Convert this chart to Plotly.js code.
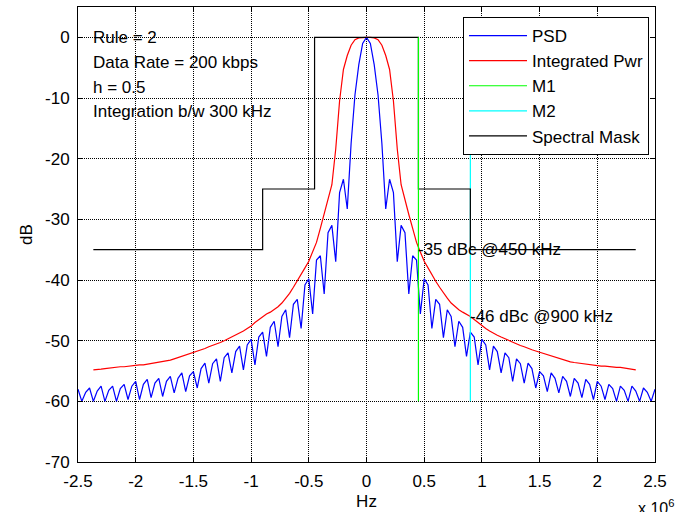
<!DOCTYPE html>
<html>
<head>
<meta charset="utf-8">
<script src="https://cdn.plot.ly/plotly-3.0.1.min.js"></script>
<style>
  html, body { margin: 0; padding: 0; background: #fff; }
  #chart { width: 679px; height: 512px; }
</style>
</head>
<body>
<div id="chart"></div>
<script>
// ---------- DATA ----------
// Frequency grid: 33.33 kHz spacing, PSD from -2.5 MHz to 2.5 MHz (k = -75..75)
const FREQ_STEP_HZ = 1e6 / 30;
const PSD_K_FIRST = -75;
const PWR_K_FIRST = -71;

// Power spectral density (dB), k = -75 .. 75
const psdDb = [
  -58.0, -60.0, -58.5, -57.8, -60.0, -58.3, -57.5, -60.0, -58.2, -57.5,
  -60.0, -57.9, -57.2, -59.7, -57.5, -56.7, -59.7, -57.2, -56.4, -59.4,
  -57.0, -56.2, -59.2, -56.7, -55.9, -58.6, -56.2, -55.3, -58.4, -55.8,
  -55.1, -57.8, -54.6, -53.7, -57.0, -53.8, -53.0, -56.7, -52.8, -52.0,
  -55.3, -51.8, -50.9, -54.8, -50.7, -49.8, -54.0, -49.4, -48.6, -52.6,
  -47.8, -46.8, -51.0, -46.0, -44.9, -49.5, -44.0, -43.2, -48.0, -40.8,
  -39.8, -45.6, -36.7, -36.0, -42.3, -32.2, -31.0, -37.0, -25.6, -23.4,
  -28.3, -17.5, -9.5, -4.5, -1.0,
  0.0,
  -1.0, -4.5, -9.5, -17.5, -28.3, -23.4, -25.6, -37.0, -31.0, -32.2,
  -42.3, -36.0, -36.7, -45.6, -39.8, -40.8, -48.0, -43.2, -44.0, -49.5,
  -44.9, -46.0, -51.0, -46.8, -47.8, -52.6, -48.6, -49.4, -54.0, -49.8,
  -50.7, -54.8, -50.9, -51.8, -55.3, -52.0, -52.8, -56.7, -53.0, -53.8,
  -57.0, -53.7, -54.6, -57.8, -55.1, -55.8, -58.4, -55.3, -56.2, -58.6,
  -55.9, -56.7, -59.2, -56.2, -57.0, -59.4, -56.4, -57.2, -59.7, -56.7,
  -57.5, -59.7, -57.2, -57.9, -60.0, -57.5, -58.2, -60.0, -57.5, -58.3,
  -60.0, -57.8, -58.5, -60.0, -58.0
];

// Integrated power (dB), k = -71 .. 70
const intPwrDb = [
  -54.8, -54.8, -54.7, -54.6, -54.5, -54.4, -54.4, -54.3, -54.3, -54.2,
  -54.2, -54.1, -54.0, -54.0, -53.9, -53.8, -53.7, -53.6, -53.5, -53.4,
  -53.2, -53.0, -52.8, -52.6, -52.3, -52.1, -51.9, -51.7, -51.5, -51.3,
  -51.0, -50.8, -50.6, -50.3, -50.0, -49.7, -49.4, -49.1, -48.8, -48.4,
  -48.0, -47.6, -47.0, -46.5, -46.0, -45.6, -45.3, -44.9, -44.4, -43.8,
  -43.0, -42.2, -41.2, -40.2, -39.2, -38.0, -36.9, -35.4, -33.8, -31.5,
  -29.2, -27.0, -24.3, -18.4, -10.5, -5.3, -3.0, -1.3, -0.4, -0.1,
  0.0,
  0.0,
  0.0, -0.1, -0.4, -1.3, -3.0, -5.3, -10.5, -18.4, -24.3, -27.0,
  -29.2, -31.5, -33.8, -35.4, -36.9, -38.0, -39.2, -40.2, -41.2, -42.2,
  -43.0, -43.8, -44.4, -44.9, -45.3, -45.6, -46.0, -46.5, -47.0, -47.6,
  -48.0, -48.4, -48.8, -49.1, -49.4, -49.7, -50.0, -50.3, -50.6, -50.8,
  -51.0, -51.3, -51.5, -51.7, -51.9, -52.1, -52.3, -52.6, -52.8, -53.0,
  -53.2, -53.4, -53.5, -53.6, -53.7, -53.8, -53.9, -54.0, -54.0, -54.1,
  -54.2, -54.2, -54.3, -54.3, -54.4, -54.4, -54.5, -54.6, -54.7, -54.8
];

// Spectral mask
const maskFreqHz = [-2.367e6, -0.9e6, -0.9e6, -0.45e6, -0.45e6, 0.45e6, 0.45e6, 0.9e6, 0.9e6, 2.333e6];
const maskDb     = [-35, -35, -25, -25, 0, 0, -25, -25, -35, -35];

// Markers
const markerFreqHz = [450e3, 900e3];
const markerTopDb = 0;
const markerBottomDb = -60;
const markerDbc = [-35, -46];
const markerLabels = ['-35 dBc @450 kHz', '-46 dBc @900 kHz'];

// Info text
const infoLines = ['Rule = 2', 'Data Rate = 200 kbps', 'h = 0.5', 'Integration b/w 300 kHz'];
const infoLevelsDb = [0, -4.2, -8.3, -12.3];

// Ticks
const xTickVals = [-2.5e6, -2e6, -1.5e6, -1e6, -0.5e6, 0, 0.5e6, 1e6, 1.5e6, 2e6, 2.5e6];
const xTickText = ['-2.5', '-2', '-1.5', '-1', '-0.5', '0', '0.5', '1', '1.5', '2', '2.5'];
const yTickVals = [-70, -60, -50, -40, -30, -20, -10, 0];
const yTickText = ['-70', '-60', '-50', '-40', '-30', '-20', '-10', '0'];

// ---------- BUILD ----------
const psdFreqHz = psdDb.map((_, i) => (PSD_K_FIRST + i) * FREQ_STEP_HZ);
const pwrFreqHz = intPwrDb.map((_, i) => (PWR_K_FIRST + i) * FREQ_STEP_HZ);

const FONT = '"Liberation Sans", Arial, Helvetica, sans-serif';
const FS = 17;

const traces = [
  { x: psdFreqHz, y: psdDb, type: 'scatter', mode: 'lines', name: 'PSD',
    line: { color: '#0000ff', width: 1.2 }, legendrank: 1 },
  { x: pwrFreqHz, y: intPwrDb, type: 'scatter', mode: 'lines', name: 'Integrated Pwr',
    line: { color: '#ff0000', width: 1.2 }, legendrank: 2 },
  { x: [markerFreqHz[1], markerFreqHz[1]], y: [markerTopDb, markerBottomDb], type: 'scatter', mode: 'lines', name: 'M2',
    line: { color: '#00ffff', width: 1.2 }, legendrank: 4 },
  { x: maskFreqHz, y: maskDb, type: 'scatter', mode: 'lines', name: 'Spectral Mask',
    line: { color: '#000000', width: 1.2 }, legendrank: 5 },
  { x: [markerFreqHz[0], markerFreqHz[0]], y: [markerTopDb, markerBottomDb], type: 'scatter', mode: 'lines', name: 'M1',
    line: { color: '#00ff00', width: 1.2 }, legendrank: 3 }
];

const L = 78, R = 24, T = 7, B = 50, W = 679, H = 512;
const pw = W - L - R, ph = H - T - B;

const annotations = [];
infoLines.forEach((t, i) => {
  annotations.push({ x: -2.385e6, y: infoLevelsDb[i], xref: 'x', yref: 'y', text: t,
    showarrow: false, xanchor: 'left', yanchor: 'middle', font: { family: FONT, size: FS, color: '#000' } });
});
markerLabels.forEach((t, i) => {
  annotations.push({ x: markerFreqHz[i], y: markerDbc[i], xref: 'x', yref: 'y', text: t,
    showarrow: false, xanchor: 'left', yanchor: 'middle', xshift: -2,
    font: { family: FONT, size: FS, color: '#000' } });
});
annotations.push({ x: (636 - L) / pw, y: (H - B - 507) / ph, xref: 'paper', yref: 'paper',
  text: 'x 10<sup>6</sup>', showarrow: false, xanchor: 'left', yanchor: 'middle',
  font: { family: FONT, size: 16, color: '#000' } });

const axisCommon = {
  ticks: 'inside', ticklen: 5, tickcolor: '#000', tickwidth: 1,
  showline: true, linecolor: '#000', linewidth: 1, mirror: 'allticks',
  showgrid: true, gridcolor: '#000', gridwidth: 1, griddash: '1px,1px',
  zeroline: false, automargin: false,
  tickfont: { family: FONT, size: FS, color: '#000' }
};

const layout = {
  width: W, height: H,
  margin: { l: L, r: R, t: T, b: B, pad: 0 },
  paper_bgcolor: '#fff', plot_bgcolor: '#fff',
  font: { family: FONT, size: FS, color: '#000' },
  showlegend: true,
  legend: {
    x: (649 - L) / pw, y: (H - B - 17) / ph, xanchor: 'right', yanchor: 'top',
    bgcolor: '#fff', bordercolor: '#000', borderwidth: 1,
    font: { family: FONT, size: FS, color: '#000' },
    traceorder: 'normal', itemwidth: 58
  },
  xaxis: Object.assign({}, axisCommon, {
    range: [-2.5e6, 2.5e6], tickmode: 'array', tickvals: xTickVals, ticktext: xTickText,
    ticklabelstandoff: 4,
    title: { text: 'Hz', font: { family: FONT, size: FS, color: '#000' }, standoff: 4 }
  }),
  yaxis: Object.assign({}, axisCommon, {
    range: [-70, 5], tickmode: 'array', tickvals: yTickVals, ticktext: yTickText,
    ticklabelstandoff: 4,
    title: { text: 'dB', font: { family: FONT, size: FS, color: '#000' }, standoff: 8 }
  }),
  annotations: annotations
};

Plotly.newPlot('chart', traces, layout, { staticPlot: true, displayModeBar: false });
</script>
</body>
</html>
